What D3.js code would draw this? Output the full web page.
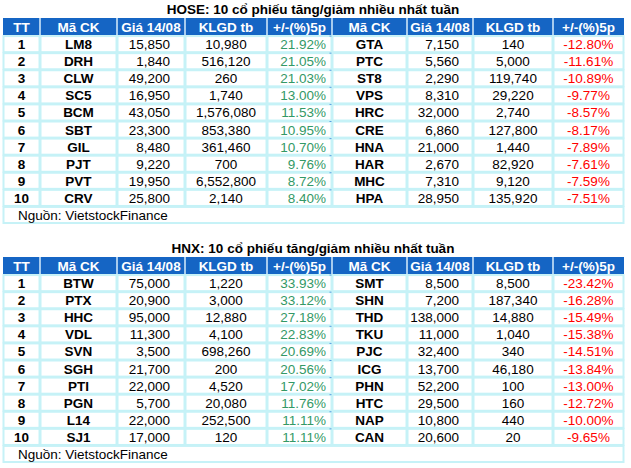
<!DOCTYPE html>
<html>
<head>
<meta charset="utf-8">
<script src="https://cdn.jsdelivr.net/npm/d3@7"></script>
<style>
  body { margin: 0; background: #fff; }
  text { font-family: "Liberation Sans", Arial, sans-serif; }
</style>
</head>
<body>
<div id="chart-area"></div>
<script>
// header labels
const headers = ["TT", "Mã CK", "Giá 14/08", "KLGD tb", "+/-(%)5p", "Mã CK", "Giá 14/08", "KLGD tb", "+/-(%)5p"];
const ranks = [1, 2, 3, 4, 5, 6, 7, 8, 9, 10];

// HOSE
const hoseUpCodes = ["LM8", "DRH", "CLW", "SC5", "BCM", "SBT", "GIL", "PJT", "PVT", "CRV"];
const hoseUpPrice = ["15,850", "1,840", "49,200", "16,950", "43,050", "23,300", "8,480", "9,220", "19,950", "25,800"];
const hoseUpVol = ["10,980", "516,120", "260", "1,740", "1,576,080", "853,380", "361,460", "700", "6,552,800", "2,140"];
const hoseUpPct = ["21.92%", "21.05%", "21.03%", "13.00%", "11.53%", "10.95%", "10.70%", "9.76%", "8.72%", "8.40%"];
const hoseDownCodes = ["GTA", "PTC", "ST8", "VPS", "HRC", "CRE", "HNA", "HAR", "MHC", "HPA"];
const hoseDownPrice = ["7,150", "5,560", "2,290", "8,310", "32,000", "6,860", "21,000", "2,670", "7,310", "28,950"];
const hoseDownVol = ["140", "5,000", "119,740", "29,220", "2,740", "127,800", "1,440", "82,920", "9,120", "135,920"];
const hoseDownPct = ["-12.80%", "-11.61%", "-10.89%", "-9.77%", "-8.57%", "-8.17%", "-7.89%", "-7.61%", "-7.59%", "-7.51%"];

// HNX
const hnxUpCodes = ["BTW", "PTX", "HHC", "VDL", "SVN", "SGH", "PTI", "PGN", "L14", "SJ1"];
const hnxUpPrice = ["75,000", "20,900", "95,000", "11,300", "3,500", "21,700", "22,000", "5,700", "22,000", "17,000"];
const hnxUpVol = ["1,220", "3,000", "12,880", "4,100", "698,260", "200", "4,520", "20,080", "252,500", "120"];
const hnxUpPct = ["33.93%", "33.12%", "27.18%", "22.83%", "20.69%", "20.56%", "17.02%", "11.76%", "11.11%", "11.11%"];
const hnxDownCodes = ["SMT", "SHN", "THD", "TKU", "PJC", "ICG", "PHN", "HTC", "NAP", "CAN"];
const hnxDownPrice = ["8,500", "7,200", "138,000", "11,000", "32,400", "13,700", "52,200", "29,500", "10,800", "20,600"];
const hnxDownVol = ["8,500", "187,340", "14,880", "1,040", "340", "46,180", "100", "160", "440", "20"];
const hnxDownPct = ["-23.42%", "-16.28%", "-15.49%", "-15.38%", "-14.51%", "-13.84%", "-13.00%", "-12.72%", "-10.00%", "-9.65%"];

const source = "Nguồn: VietstockFinance";

const W = 631, H = 468;
const svg = d3.select("#chart-area").append("svg")
  .attr("width", W)
  .attr("height", H);

// column edges
const edges = [3, 40, 117, 185, 267, 332, 407, 473, 553, 624];
const aligns = ["middle", "middle", "end", "middle", "end", "middle", "end", "middle", "middle"];
const pads = [0, 0, 15, 0, 6, 0, 14, 0, 0];
const bold = [true, true, false, false, false, true, false, false, false];

const blue = "#1565c4", border = "#c6f2f7", green = "#339966", red = "#ff0000";

function textX(i) {
  if (aligns[i] === "middle") return (edges[i] + edges[i + 1]) / 2;
  return edges[i + 1] - pads[i];
}

function drawTable(top, title, cols) {
  const g = svg.append("g").attr("transform", "translate(0," + top + ")");

  g.append("text")
    .attr("x", 313).attr("y", -4)
    .attr("text-anchor", "middle")
    .attr("font-size", 13.5).attr("font-weight", "bold")
    .attr("fill", "#000")
    .text(title);

  const y = d3.scaleBand().domain(["h"].concat(ranks, ["src"])).range([0, 17 * 12.06]).padding(0);

  // header
  g.append("rect").attr("x", edges[0]).attr("y", 0)
    .attr("width", edges[9] - edges[0]).attr("height", y.bandwidth())
    .attr("fill", blue);
  headers.forEach((h, i) => {
    if (i > 0) g.append("line")
      .attr("x1", edges[i]).attr("x2", edges[i])
      .attr("y1", 0).attr("y2", y.bandwidth())
      .attr("stroke", "#d8eefc").attr("stroke-width", 1.5);
    g.append("text")
      .attr("x", (edges[i] + edges[i + 1]) / 2)
      .attr("y", y.bandwidth() / 2 + 5)
      .attr("text-anchor", "middle")
      .attr("font-size", 13.5).attr("font-weight", "bold")
      .attr("fill", "#fff")
      .text(h);
  });

  // body cells
  ranks.forEach((r, ri) => {
    const yy = y(r);
    edges.slice(0, 9).forEach((x0, ci) => {
      g.append("rect")
        .attr("x", x0 + 0.5).attr("y", yy + 1)
        .attr("width", edges[ci + 1] - x0 - 1).attr("height", y.bandwidth() - 1)
        .attr("fill", "#fff").attr("stroke", border).attr("stroke-width", 2);
    });
    cols.forEach((arr, ci) => {
      const val = arr === null ? String(r) : arr[ri];
      let color = "#000";
      if (ci === 4) color = green;
      if (ci === 8) color = red;
      g.append("text")
        .attr("x", textX(ci))
        .attr("y", yy + y.bandwidth() / 2 + 5.5)
        .attr("text-anchor", aligns[ci])
        .attr("font-size", 13.5)
        .attr("font-weight", bold[ci] || ci === 0 ? "bold" : "normal")
        .attr("fill", color)
        .text(val);
    });
    // small blue marker at table split
    g.append("line")
      .attr("x1", edges[5] - 2.5).attr("x2", edges[5] - 0.5)
      .attr("y1", yy + 1).attr("y2", yy + 1)
      .attr("stroke", "#5aa0e0").attr("stroke-width", 1);
  });

  // source row
  const ys = y("src");
  g.append("rect")
    .attr("x", edges[0] + 0.5).attr("y", ys + 1)
    .attr("width", edges[9] - edges[0] - 1).attr("height", y.bandwidth() - 1)
    .attr("fill", "#fff").attr("stroke", border).attr("stroke-width", 2);
  g.append("text")
    .attr("x", 18).attr("y", ys + y.bandwidth() / 2 + 5.5)
    .attr("font-size", 13.5).attr("fill", "#000")
    .text(source);
}

drawTable(18, "HOSE: 10 cổ phiếu tăng/giảm nhiều nhất tuần",
  [null, hoseUpCodes, hoseUpPrice, hoseUpVol, hoseUpPct, hoseDownCodes, hoseDownPrice, hoseDownVol, hoseDownPct]);
drawTable(257, "HNX: 10 cổ phiếu tăng/giảm nhiều nhất tuần",
  [null, hnxUpCodes, hnxUpPrice, hnxUpVol, hnxUpPct, hnxDownCodes, hnxDownPrice, hnxDownVol, hnxDownPct]);
</script>
</body>
</html>
